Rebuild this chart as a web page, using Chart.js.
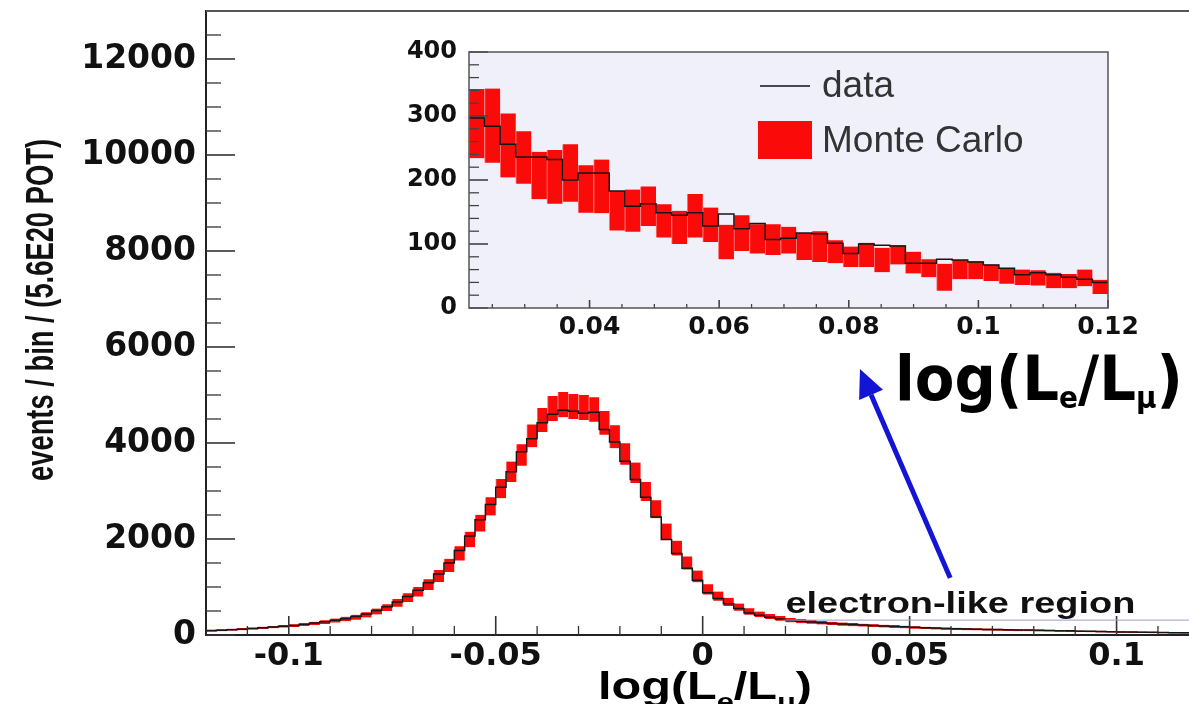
<!DOCTYPE html>
<html>
<head>
<meta charset="utf-8">
<script src="https://cdn.jsdelivr.net/npm/chart.js@4.4.1/dist/chart.umd.min.js"></script>
<style>
  html, body { margin: 0; padding: 0; background: #fff; }
  #wrap { position: relative; width: 1189px; height: 704px; overflow: hidden; }
  #mainChart { position: absolute; left: 0; top: 0; }
  #insetChart { position: absolute; left: 395px; top: 40px; }
</style>
</head>
<body>
<div id="wrap">
  <canvas id="mainChart" width="1189" height="704"></canvas>
  <canvas id="insetChart" width="760" height="310"></canvas>
</div>
<script>
// main histogram: 95 bins of 0.0025, starting at -0.12
const mainStart = -0.12;
const mainBinWidth = 0.0025;
const mainData = [
  90, 100, 110, 120, 135, 150, 165, 180, 200, 225,
  250, 275, 305, 340, 385, 440, 510, 590, 690, 800,
  930, 1090, 1270, 1500, 1760, 2060, 2400, 2720, 3080, 3400,
  3820, 4090, 4420, 4600, 4680, 4660, 4620, 4640, 4280, 4020,
  3620, 3240, 2870, 2460, 1990, 1700, 1390, 1140, 880, 760,
  650, 550, 460, 410, 370, 335, 300, 285, 270, 255,
  240, 230, 220, 210, 200, 190, 180, 170, 160, 150,
  145, 138, 130, 126, 122, 117, 112, 108, 104, 102,
  100, 96, 90, 86, 80, 76, 72, 68, 65, 62,
  58, 55, 52, 48, 45
];
const mainMC = [
  95, 100, 112, 122, 135, 150, 165, 180, 195, 215,
  240, 268, 300, 335, 370, 420, 490, 570, 670, 780,
  900, 1050, 1230, 1450, 1700, 1990, 2330, 2680, 3050, 3400,
  3750, 4150, 4480, 4720, 4800, 4760, 4740, 4700, 4420, 4130,
  3770, 3380, 2990, 2620, 2150, 1810, 1500, 1220, 950, 810,
  690, 580, 490, 430, 385, 345, 310, 290, 272, 256,
  240, 228, 216, 205, 195, 185, 175, 165, 155, 147,
  140, 134, 128, 123, 118, 113, 108, 104, 100, 97,
  94, 90, 86, 82, 78, 74, 70, 66, 62, 59,
  56, 53, 50, 47, 44
];
const mainMCErr = [
  20, 20, 20, 22, 22, 24, 25, 26, 28, 30,
  34, 38, 42, 46, 50, 56, 62, 70, 80, 90,
  100, 112, 125, 138, 150, 162, 175, 188, 200, 212,
  225, 238, 250, 260, 262, 262, 260, 255, 248, 238,
  225, 212, 200, 188, 172, 155, 138, 122, 108, 96,
  86, 76, 68, 60, 54, 50, 46, 43, 40, 38,
  34, 33, 32, 30, 29, 28, 27, 26, 25, 24,
  24, 23, 22, 22, 21, 21, 20, 20, 20, 19,
  19, 18, 18, 18, 17, 17, 16, 16, 16, 15,
  15, 15, 14, 14, 14
];
const mainXTicks = [-0.1, -0.05, 0, 0.05, 0.1];
const mainXLabels = ["-0.1", "-0.05", "0", "0.05", "0.1"];
const mainYTicks = [0, 2000, 4000, 6000, 8000, 10000, 12000];
const mainYLabels = ["0", "2000", "4000", "6000", "8000", "10000", "12000"];

// inset histogram: 41 bins between 0.0214 and 0.12
const insetStart = 0.0214;
const insetEnd = 0.12;
const insetData = [
  297, 284, 256, 236, 236, 232, 200, 211, 211, 183,
  159, 163, 149, 145, 149, 128, 147, 124, 132, 107,
  109, 117, 116, 101, 85, 100, 98, 97, 70, 70,
  76, 75, 72, 67, 62, 52, 55, 52, 48, 45,
  40
];
const insetMC = [
  288, 285, 254, 235, 207, 205, 211, 186, 190, 152,
  152, 159, 136, 126, 144, 130, 103, 117, 108, 107,
  106, 96, 96, 88, 80, 83, 75, 83, 71, 62,
  48, 60, 59, 55, 50, 48, 47, 43, 42, 47,
  33
];
const insetMCErr = [
  54, 58, 50, 41, 37, 42, 45, 37, 42, 31,
  33, 31, 26, 26, 34, 27, 27, 28, 23, 24,
  21, 21, 24, 18, 16, 19, 19, 15, 17, 14,
  21, 15, 14, 13, 12, 12, 12, 12, 11, 13,
  11
];
const insetXTicks = [0.04, 0.06, 0.08, 0.1, 0.12];
const insetXLabels = ["0.04", "0.06", "0.08", "0.1", "0.12"];
const insetYTicks = [0, 100, 200, 300, 400];
const insetYLabels = ["0", "100", "200", "300", "400"];

// annotations, in main-plot data coordinates
const arrowTail = { x: 0.0598, y: 1190 };
const arrowTip = { x: 0.0380, y: 5540 };
const regionLeft = 0.0195;
const regionTop = 310;

const RED = "#fb0a0a";
const TICK_FONT = '"DejaVu Sans"';

function mcBoxes(start, width, mc, err) {
  return mc.map((v, i) => ({ x: start + width * (i + 0.5), y: [v - err[i], v + err[i]] }));
}

// points on bin left edges, plus the closing right edge (stepped: 'before')
function dataSteps(start, width, vals) {
  const pts = vals.map((v, i) => ({ x: start + width * i, y: v }));
  pts.push({ x: start + width * vals.length, y: vals[vals.length - 1] });
  return pts;
}

function steps(from, to, step) {
  const out = [];
  for (let v = from; v <= to + step / 1000; v += step) out.push(Math.round(v * 1e6) / 1e6);
  return out;
}

// keep the plot frame exactly where the scale boxes say
function noEdgePadding(s) {
  s.paddingTop = 0; s.paddingBottom = 0; s.paddingLeft = 0; s.paddingRight = 0;
}

// ROOT style: tick marks point into the frame
function inwardTicks(chart, t) {
  const { ctx, chartArea: a, scales: { x, y } } = chart;
  ctx.save();
  ctx.strokeStyle = t.color;
  const seg = (x1, y1, x2, y2, w) => {
    ctx.lineWidth = w;
    ctx.beginPath(); ctx.moveTo(x1, y1); ctx.lineTo(x2, y2); ctx.stroke();
  };
  t.xMinor.forEach(v => { const p = x.getPixelForValue(v); seg(p, a.bottom, p, a.bottom - t.xMinorLen, 1.3); });
  t.xMajor.forEach(v => { const p = x.getPixelForValue(v); seg(p, a.bottom, p, a.bottom - t.xMajorLen, 1.6); });
  t.yMinor.forEach(v => { const p = y.getPixelForValue(v); seg(a.left, p, a.left + t.yMinorLen, p, 1.3); });
  t.yMajor.forEach(v => { const p = y.getPixelForValue(v); seg(a.left, p, a.left + t.yMajorLen, p, 1.6); });
  ctx.restore();
}

// text made of pieces (for subscripts), stretched to a given width
function richText(ctx, parts, left, base, width, family) {
  ctx.save();
  let total = 0;
  parts.forEach(p => { ctx.font = "bold " + p.size + "px " + family; p.w = ctx.measureText(p.t).width; total += p.w; });
  ctx.translate(left, base);
  ctx.scale(width / total, 1);
  ctx.fillStyle = "#000";
  ctx.textBaseline = "alphabetic";
  let cx = 0;
  parts.forEach(p => { ctx.font = "bold " + p.size + "px " + family; ctx.fillText(p.t, cx, p.dy || 0); cx += p.w; });
  ctx.restore();
}

function fitText(ctx, text, left, base, width, font, color) {
  ctx.save();
  ctx.font = font;
  const w = ctx.measureText(text).width;
  ctx.translate(left, base);
  ctx.scale(width / w, 1);
  ctx.fillStyle = color;
  ctx.textBaseline = "alphabetic";
  ctx.fillText(text, 0, 0);
  ctx.restore();
}

const mainDecor = {
  id: "mainDecor",
  afterDraw(chart) {
    const { ctx, chartArea: a, scales: { x, y } } = chart;
    // top edge of the frame
    ctx.save();
    ctx.strokeStyle = "#555";
    ctx.lineWidth = 2;
    ctx.beginPath(); ctx.moveTo(a.left, a.top); ctx.lineTo(a.right, a.top); ctx.stroke();
    ctx.restore();

    inwardTicks(chart, {
      color: "#333",
      xMajor: mainXTicks, xMajorLen: 19,
      xMinor: steps(-0.11, 0.11, 0.01).filter(v => !mainXTicks.some(m => Math.abs(m - v) < 1e-6)), xMinorLen: 9,
      yMajor: mainYTicks, yMajorLen: 29,
      yMinor: steps(500, 12500, 500).filter(v => v % 2000 !== 0), yMinorLen: 15
    });

    // y axis title, narrow and tall like the original
    ctx.save();
    ctx.font = "bold 38px 'Liberation Sans'";
    const title = "events / bin / (5.6E20 POT)";
    const tw = ctx.measureText(title).width;
    ctx.translate(53, 310);
    ctx.rotate(-Math.PI / 2);
    ctx.scale(342 / tw, 1);
    ctx.fillStyle = "#111";
    ctx.textAlign = "center";
    ctx.textBaseline = "alphabetic";
    ctx.fillText(title, 0, 0);
    ctx.restore();

    // electron-like region
    const rx = x.getPixelForValue(regionLeft);
    const ry = y.getPixelForValue(regionTop);
    ctx.save();
    ctx.strokeStyle = "#9a9ad0";
    ctx.lineWidth = 1;
    ctx.beginPath(); ctx.moveTo(rx, ry); ctx.lineTo(a.right, ry); ctx.stroke();
    ctx.restore();
    fitText(ctx, "electron-like region", rx + 2, ry - 7, 350, "bold 30px 'Liberation Sans'", "#111");

    // blue arrow
    const tx = x.getPixelForValue(arrowTail.x), ty = y.getPixelForValue(arrowTail.y);
    const hx = x.getPixelForValue(arrowTip.x), hy = y.getPixelForValue(arrowTip.y);
    const ang = Math.atan2(hy - ty, hx - tx);
    const headLen = 28, headHalf = 13;
    const bx = hx - headLen * Math.cos(ang), by = hy - headLen * Math.sin(ang);
    ctx.save();
    ctx.strokeStyle = "#1414d6";
    ctx.fillStyle = "#1414d6";
    ctx.lineWidth = 5;
    ctx.beginPath(); ctx.moveTo(tx, ty); ctx.lineTo(bx, by); ctx.stroke();
    ctx.beginPath();
    ctx.moveTo(hx, hy);
    ctx.lineTo(bx + headHalf * Math.sin(ang), by - headHalf * Math.cos(ang));
    ctx.lineTo(bx - headHalf * Math.sin(ang), by + headHalf * Math.cos(ang));
    ctx.closePath(); ctx.fill();
    ctx.restore();

    // big label next to the arrow
    richText(ctx, [
      { t: "log(L", size: 62 }, { t: "e", size: 30, dy: 8 },
      { t: "/L", size: 62 }, { t: "\u03bc", size: 30, dy: 8 }, { t: ")", size: 62 }
    ], 895, 400, 288, "'DejaVu Sans'");

    // x axis title
    richText(ctx, [
      { t: "log(L", size: 38 }, { t: "e", size: 24, dy: 11 },
      { t: "/L", size: 38 }, { t: "\u03bc", size: 24, dy: 11 }, { t: ")", size: 38 }
    ], 598, 699, 214, "'Liberation Sans'");
  }
};

const insetDecor = {
  id: "insetDecor",
  beforeDraw(chart) {
    const { ctx, chartArea: a } = chart;
    ctx.save();
    ctx.fillStyle = "#f0f0fa";
    ctx.fillRect(a.left, a.top, a.right - a.left, a.bottom - a.top);
    ctx.restore();
  },
  afterDraw(chart) {
    const { ctx, chartArea: a } = chart;
    inwardTicks(chart, {
      color: "#444",
      xMajor: insetXTicks, xMajorLen: 8,
      xMinor: steps(0.025, 0.115, 0.005).filter(v => !insetXTicks.some(m => Math.abs(m - v) < 1e-6)), xMinorLen: 4,
      yMajor: insetYTicks, yMajorLen: 19,
      yMinor: steps(20, 380, 20).filter(v => v % 100 !== 0), yMinorLen: 10
    });
    ctx.save();
    ctx.strokeStyle = "#555";
    ctx.lineWidth = 1.5;
    ctx.strokeRect(a.left, a.top, a.right - a.left, a.bottom - a.top);

    // legend
    const lx = a.left + 291, ly = a.top + 34;
    ctx.strokeStyle = "#111";
    ctx.lineWidth = 1.3;
    ctx.beginPath(); ctx.moveTo(lx, ly); ctx.lineTo(lx + 50, ly); ctx.stroke();
    ctx.fillStyle = RED;
    ctx.fillRect(a.left + 289, a.top + 69, 54, 38);
    ctx.fillStyle = "#333";
    ctx.font = "37px 'Liberation Sans'";
    ctx.textBaseline = "alphabetic";
    ctx.fillText("data", a.left + 353, a.top + 45);
    ctx.fillText("Monte Carlo", a.left + 353, a.top + 100);
    ctx.restore();
  }
};

function histDatasets(start, width, vals, mc, err) {
  return [
    {
      type: "line", label: "data", data: dataSteps(start, width, vals),
      stepped: true, borderColor: "#161616", borderWidth: 1.5,
      pointRadius: 0, fill: false, order: 0
    },
    {
      type: "bar", label: "Monte Carlo", data: mcBoxes(start, width, mc, err),
      backgroundColor: RED, borderColor: "#ff7a7a",
      borderWidth: { left: 1, right: 0, top: 0, bottom: 0 }, borderSkipped: false,
      barPercentage: 1, categoryPercentage: 1, order: 1
    }
  ];
}

new Chart(document.getElementById("mainChart"), {
  type: "bar",
  data: { datasets: histDatasets(mainStart, mainBinWidth, mainData, mainMC, mainMCErr) },
  options: {
    responsive: false,
    animation: false,
    events: [],
    layout: { padding: { top: 11, right: 0, left: 0, bottom: 0 } },
    plugins: { legend: { display: false }, tooltip: { enabled: false } },
    scales: {
      x: {
        type: "linear",
        min: mainStart,
        max: mainStart + mainBinWidth * mainData.length,
        offset: false,
        grid: { display: false, drawTicks: false },
        border: { display: true, color: "#222", width: 2 },
        afterBuildTicks: s => { s.ticks = mainXTicks.map(v => ({ value: v })); },
        afterFit: s => { s.height = 69; noEdgePadding(s); },
        ticks: {
          autoSkip: false, maxRotation: 0, padding: 2, color: "#111",
          font: { family: TICK_FONT, weight: "bold", size: 32 },
          callback: (v, i) => mainXLabels[i]
        }
      },
      y: {
        type: "linear",
        min: 0,
        max: 13000,
        grid: { display: false, drawTicks: false },
        border: { display: true, color: "#222", width: 2 },
        afterBuildTicks: s => { s.ticks = mainYTicks.map(v => ({ value: v })); },
        afterFit: s => { s.width = 206; noEdgePadding(s); },
        ticks: {
          padding: 10, color: "#111",
          font: { family: TICK_FONT, weight: "bold", size: 33 },
          callback: (v, i) => mainYLabels[i]
        }
      }
    }
  },
  plugins: [mainDecor]
});

const insetWidth = (insetEnd - insetStart) / insetData.length;

new Chart(document.getElementById("insetChart"), {
  type: "bar",
  data: { datasets: histDatasets(insetStart, insetWidth, insetData, insetMC, insetMCErr) },
  options: {
    responsive: false,
    animation: false,
    events: [],
    layout: { padding: { top: 12, right: 47, left: 0, bottom: 0 } },
    plugins: { legend: { display: false }, tooltip: { enabled: false } },
    scales: {
      x: {
        type: "linear",
        min: insetStart,
        max: insetEnd,
        offset: false,
        grid: { display: false, drawTicks: false },
        border: { display: false },
        afterBuildTicks: s => { s.ticks = insetXTicks.map(v => ({ value: v })); },
        afterFit: s => { s.height = 42; noEdgePadding(s); },
        ticks: {
          autoSkip: false, maxRotation: 0, padding: 4, color: "#111",
          font: { family: TICK_FONT, weight: "bold", size: 25 },
          callback: (v, i) => insetXLabels[i]
        }
      },
      y: {
        type: "linear",
        min: 0,
        max: 400,
        grid: { display: false, drawTicks: false },
        border: { display: false },
        afterBuildTicks: s => { s.ticks = insetYTicks.map(v => ({ value: v })); },
        afterFit: s => { s.width = 74; noEdgePadding(s); },
        ticks: {
          padding: 12, color: "#111",
          font: { family: TICK_FONT, weight: "bold", size: 24 },
          callback: (v, i) => insetYLabels[i]
        }
      }
    }
  },
  plugins: [insetDecor]
});
</script>
</body>
</html>
